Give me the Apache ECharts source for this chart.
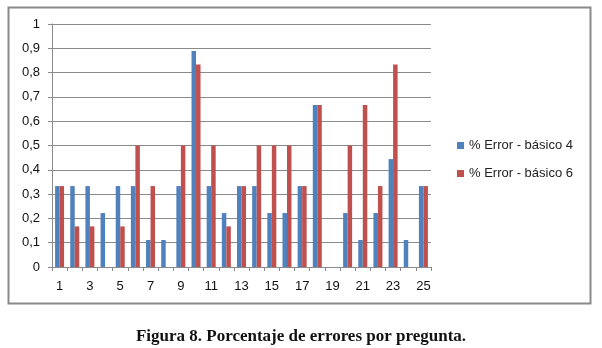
<!DOCTYPE html>
<html>
<head>
<meta charset="utf-8">
<script src="https://cdn.jsdelivr.net/npm/echarts@6/dist/echarts.min.js"></script>
<style>
  html, body { margin: 0; padding: 0; background: #fff; }
  #main { width: 602px; height: 348px; }
</style>
</head>
<body>
<div id="main"></div>
<script>
// preguntas 1..25
var preguntas = ['1','2','3','4','5','6','7','8','9','10','11','12','13','14','15','16','17','18','19','20','21','22','23','24','25'];
// % Error - básico 4
var basico4 = [0.333, 0.333, 0.333, 0.222, 0.333, 0.333, 0.111, 0.111, 0.333, 0.889, 0.333, 0.222, 0.333, 0.333, 0.222, 0.222, 0.333, 0.667, 0, 0.222, 0.111, 0.222, 0.444, 0.111, 0.333];
// % Error - básico 6
var basico6 = [0.333, 0.167, 0.167, 0, 0.167, 0.5, 0.333, 0, 0.5, 0.833, 0.5, 0.167, 0.333, 0.5, 0.5, 0.5, 0.333, 0.667, 0, 0.5, 0.667, 0.333, 0.833, 0, 0.333];
var nombres = ['% Error - básico 4', '% Error - básico 6'];
var tituloFigura = 'Figura 8. Porcentaje de errores por pregunta.';

var myChart = echarts.init(document.getElementById('main'));

var option = {
  backgroundColor: '#ffffff',
  animation: false,
  title: {
    text: tituloFigura,
    left: 'center',
    top: 323,
    textStyle: {
      fontFamily: 'Liberation Serif',
      fontWeight: 'bold',
      fontSize: 17,
      color: '#111'
    }
  },
  legend: {
    orient: 'vertical',
    left: 452,
    top: 134,
    itemWidth: 7,
    itemHeight: 7,
    itemGap: 15,
    icon: 'rect',
    data: nombres,
    textStyle: {
      fontFamily: 'Liberation Sans',
      fontSize: 13,
      color: '#222'
    }
  },
  grid: {
    left: 52,
    right: 171,
    top: 24,
    bottom: 81,
    containLabel: false
  },
  xAxis: {
    type: 'category',
    data: preguntas,
    axisLine: { lineStyle: { color: '#8a8a8a' } },
    axisTick: { show: true, alignWithLabel: false, interval: 0, length: 4, lineStyle: { color: '#8a8a8a' } },
    axisLabel: {
      interval: 1,
      margin: 13,
      fontFamily: 'Liberation Sans',
      fontSize: 13,
      color: '#111'
    }
  },
  yAxis: {
    type: 'value',
    min: 0,
    max: 1,
    interval: 0.1,
    axisLine: { show: true, lineStyle: { color: '#8a8a8a' } },
    axisTick: { show: true, length: 4, lineStyle: { color: '#8a8a8a' } },
    splitLine: { show: true, lineStyle: { color: '#8a8a8a' } },
    axisLabel: {
      margin: 12,
      fontFamily: 'Liberation Sans',
      fontSize: 13,
      color: '#111',
      formatter: function (v) {
        return String(Math.round(v * 10) / 10).replace('.', ',');
      }
    }
  },
  series: [{
    name: nombres[0],
    type: 'bar',
    data: basico4,
    barWidth: 4.5,
    barGap: '0%',
    itemStyle: { color: '#4f81bd' }
  }, {
    name: nombres[1],
    type: 'bar',
    data: basico6,
    barWidth: 4.5,
    itemStyle: { color: '#c0504d' }
  }],
  graphic: [{
    type: 'rect',
    shape: { x: 8.5, y: 7.5, width: 582, height: 296 },
    style: { fill: null, stroke: '#8a8a8a', lineWidth: 2 },
    silent: true
  }]
};

myChart.setOption(option);
</script>
</body>
</html>
